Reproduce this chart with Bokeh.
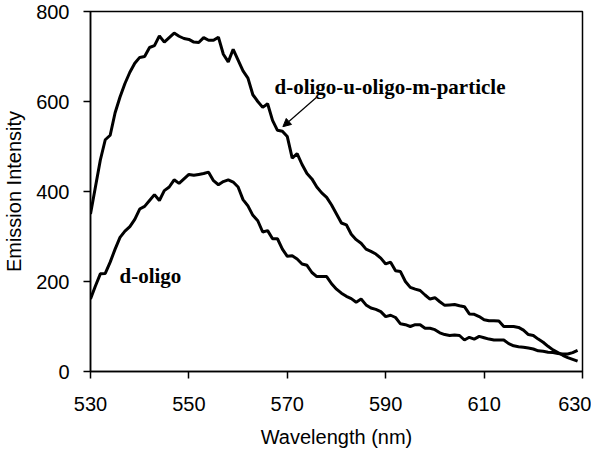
from bokeh.plotting import figure
from bokeh.models import Range1d, FixedTicker, Label, Arrow, NormalHead
from bokeh.embed import file_html
from bokeh.resources import INLINE

# Wavelength (nm)
wavelength = list(range(530, 630))

# d-oligo-u-oligo-m-particle emission
particle = [350, 410, 470, 515, 525, 575, 610, 640, 665, 685,
            698, 700, 720, 724, 746, 732, 742, 752, 745, 740,
            738, 732, 731, 742, 736, 736, 743, 705, 688, 716,
            692, 668, 652, 615, 600, 587, 595, 558, 536, 534,
            522, 474, 484, 460, 440, 428, 410, 397, 387, 370,
            350, 330, 326, 305, 293, 285, 272, 267, 261, 252,
            239, 243, 224, 222, 200, 187, 183, 180, 170, 161,
            164, 155, 147, 148, 149, 146, 144, 128, 127, 122,
            115, 113, 113, 112, 100, 100, 100, 98, 92, 82,
            80, 72, 65, 56, 48, 42, 36, 31, 27, 23]

# d-oligo emission
oligo = [161, 190, 217, 218, 243, 272, 298, 312, 322, 338,
         361, 367, 380, 393, 380, 402, 410, 426, 418, 428,
         438, 436, 438, 440, 443, 424, 415, 422, 426, 421,
         410, 382, 368, 347, 335, 310, 313, 295, 295, 272,
         256, 257, 250, 239, 236, 220, 211, 211, 211, 195,
         183, 174, 167, 162, 154, 161, 148, 141, 138, 133,
         122, 125, 120, 106, 104, 100, 104, 104, 96, 96,
         93, 86, 82, 80, 81, 80, 70, 76, 72, 78,
         75, 72, 70, 70, 70, 62, 57, 55, 54, 52,
         50, 46, 45, 43, 42, 40, 39, 39, 42, 47]

x_ticks = [530, 550, 570, 590, 610, 630]
y_ticks = [0, 200, 400, 600, 800]

p = figure(width=585, height=437, output_backend="svg", toolbar_location=None,
           x_range=Range1d(530, 630), y_range=Range1d(0, 800),
           min_border_left=84, min_border_top=11, min_border_right=9,
           min_border_bottom=66)
p.frame_width = 492
p.frame_height = 360

p.line(wavelength, particle, line_color="black", line_width=3)
p.line(wavelength, oligo, line_color="black", line_width=3)

p.xgrid.visible = False
p.ygrid.visible = False
p.outline_line_color = "black"
p.outline_line_width = 1.5
p.outline_line_alpha = 1.0

for ax in (p.xaxis[0], p.yaxis[0]):
    ax.axis_line_color = "black"
    ax.axis_line_width = 1.5
    ax.major_tick_line_color = "black"
    ax.major_tick_line_width = 1.5
    ax.major_tick_in = 0
    ax.major_tick_out = 7
    ax.minor_tick_line_color = None
    ax.major_label_text_font = "Liberation Sans"
    ax.major_label_text_font_size = "20px"
    ax.major_label_text_color = "black"
    ax.axis_label_text_font = "Liberation Sans"
    ax.axis_label_text_font_size = "20px"
    ax.axis_label_text_font_style = "normal"
    ax.axis_label_text_color = "black"

p.xaxis.ticker = FixedTicker(ticks=x_ticks)
p.yaxis.ticker = FixedTicker(ticks=y_ticks)
p.xaxis.axis_label = "Wavelength (nm)"
p.yaxis.axis_label = "Emission Intensity"
p.xaxis.major_label_standoff = 18
p.yaxis.major_label_standoff = 14
p.xaxis.axis_label_standoff = 12
p.yaxis.axis_label_standoff = 8

p.add_layout(Label(x=567.4, y=633, text="d-oligo-u-oligo-m-particle",
                   text_font="Liberation Serif", text_font_style="bold",
                   text_font_size="21px", text_color="black",
                   text_baseline="alphabetic", text_align="left"))
p.add_layout(Label(x=535.9, y=213, text="d-oligo",
                   text_font="Liberation Serif", text_font_style="bold",
                   text_font_size="21px", text_color="black",
                   text_baseline="alphabetic", text_align="left"))
p.add_layout(Arrow(x_start=575.9, y_start=609, x_end=569.1, y_end=544,
                   line_color="black", line_width=1.2,
                   end=NormalHead(size=8, fill_color="black", line_color="black")))

open("out.html", "w").write(file_html(p, INLINE))
